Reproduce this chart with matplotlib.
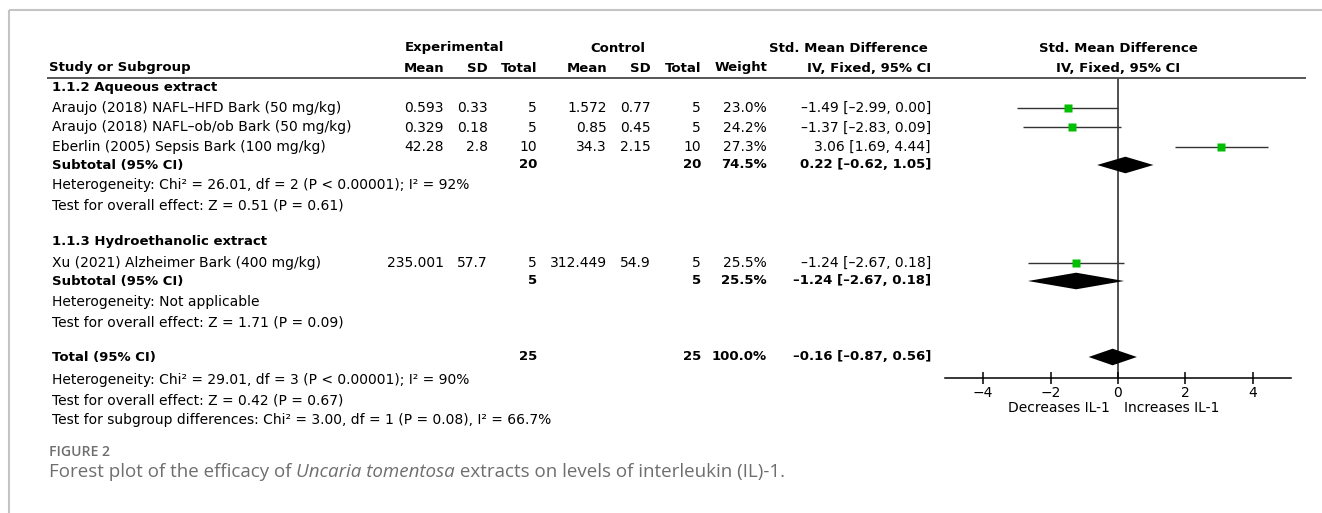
import matplotlib
matplotlib.use("Agg")
import matplotlib.pyplot as plt

W, H = 1322, 513
plt.rcParams['font.family'] = ['DejaVu Sans']

# --- data ---
group_titles = ["1.1.2 Aqueous extract", "1.1.3 Hydroethanolic extract"]
study_names = ["Araujo (2018) NAFL–HFD Bark (50 mg/kg)",
               "Araujo (2018) NAFL–ob/ob Bark (50 mg/kg)",
               "Eberlin (2005) Sepsis Bark (100 mg/kg)",
               "Xu (2021) Alzheimer Bark (400 mg/kg)"]
exp_mean = [0.593, 0.329, 42.28, 235.001]
exp_sd = [0.33, 0.18, 2.8, 57.7]
exp_n = [5, 5, 10, 5]
ctl_mean = [1.572, 0.85, 34.3, 312.449]
ctl_sd = [0.77, 0.45, 2.15, 54.9]
ctl_n = [5, 5, 10, 5]
weight = [23.0, 24.2, 27.3, 25.5]
smd = [-1.49, -1.37, 3.06, -1.24]
ci_lo = [-2.99, -2.83, 1.69, -2.67]
ci_hi = [0.00, 0.09, 4.44, 0.18]

sub_exp_n = [20, 5]
sub_ctl_n = [20, 5]
sub_weight = [74.5, 25.5]
sub_smd = [0.22, -1.24]
sub_lo = [-0.62, -2.67]
sub_hi = [1.05, 0.18]
sub_het = ["Heterogeneity: Chi² = 26.01, df = 2 (P < 0.00001); I² = 92%",
           "Heterogeneity: Not applicable"]
sub_test = ["Test for overall effect: Z = 0.51 (P = 0.61)",
            "Test for overall effect: Z = 1.71 (P = 0.09)"]

tot_exp_n, tot_ctl_n, tot_weight = 25, 25, 100.0
tot_smd, tot_lo, tot_hi = -0.16, -0.87, 0.56
tot_notes = ["Heterogeneity: Chi² = 29.01, df = 3 (P < 0.00001); I² = 90%",
             "Test for overall effect: Z = 0.42 (P = 0.67)",
             "Test for subgroup differences: Chi² = 3.00, df = 1 (P = 0.08), I² = 66.7%"]

x_ticks = [-4, -2, 0, 2, 4]
favours = ["Decreases IL-1", "Increases IL-1"]

# --- layout (pixel rows / columns) ---
group_y = [88, 242]
study_y = [108, 127.5, 147, 263]
sub_y = [165, 281]
het_y = [185.5, 302]
test_y = [205.5, 322]
tot_y = 357
tot_note_y = [380, 400, 420]
col_x = dict(em=444, esd=488, en=537, cm=607, csd=651, cn=701, w=767, ci=931)

FS = 10.0      # regular text
FSB = 9.5      # bold text
GREEN = "#00bf00"


def fmt(v, nd=2):
    return f"{v:.{nd}f}".replace("-", "–")


def ci_txt(e, lo, hi):
    return f"{fmt(e)} [{fmt(lo)}, {fmt(hi)}]"


fig = plt.figure(figsize=(W / 100, H / 100), dpi=100)
bg = fig.add_axes([0, 0, 1, 1])
bg.set_xlim(0, W)
bg.set_ylim(H, 0)
bg.axis("off")


def put(x, y, s, ha="left", bold=False, **kw):
    bg.text(x, y, s, ha=ha, va="center", fontsize=FSB if bold else FS,
            fontweight="bold" if bold else "normal", **kw)


# frame
bg.plot([9, W], [10, 10], color="#c4c4c4", lw=1.5, solid_capstyle="butt")
bg.plot([9, 9], [10, H], color="#c4c4c4", lw=1.5, solid_capstyle="butt")

# header
put(454, 48, "Experimental", ha="center", bold=True)
put(618, 48, "Control", ha="center", bold=True)
put(848, 48, "Std. Mean Difference", ha="center", bold=True)
put(1118, 48, "Std. Mean Difference", ha="center", bold=True)
put(49, 68, "Study or Subgroup", bold=True)
for key, lab in [("em", "Mean"), ("esd", "SD"), ("en", "Total"), ("cm", "Mean"),
                 ("csd", "SD"), ("cn", "Total"), ("w", "Weight"), ("ci", "IV, Fixed, 95% CI")]:
    put(col_x[key], 68, lab, ha="right", bold=True)
put(1118, 68, "IV, Fixed, 95% CI", ha="center", bold=True)
bg.plot([48, 1305], [78, 78], color="#555555", lw=1.4)

# study rows
for i, name in enumerate(study_names):
    y = study_y[i]
    put(52, y, name)
    put(col_x["em"], y, str(exp_mean[i]), ha="right")
    put(col_x["esd"], y, str(exp_sd[i]), ha="right")
    put(col_x["en"], y, str(exp_n[i]), ha="right")
    put(col_x["cm"], y, str(ctl_mean[i]), ha="right")
    put(col_x["csd"], y, str(ctl_sd[i]), ha="right")
    put(col_x["cn"], y, str(ctl_n[i]), ha="right")
    put(col_x["w"], y, f"{weight[i]:.1f}%", ha="right")
    put(col_x["ci"], y, ci_txt(smd[i], ci_lo[i], ci_hi[i]), ha="right")

# subgroups
for g, title in enumerate(group_titles):
    put(52, group_y[g], title, bold=True)
    put(52, sub_y[g], "Subtotal (95% CI)", bold=True)
    put(col_x["en"], sub_y[g], str(sub_exp_n[g]), ha="right", bold=True)
    put(col_x["cn"], sub_y[g], str(sub_ctl_n[g]), ha="right", bold=True)
    put(col_x["w"], sub_y[g], f"{sub_weight[g]:.1f}%", ha="right", bold=True)
    put(col_x["ci"], sub_y[g], ci_txt(sub_smd[g], sub_lo[g], sub_hi[g]), ha="right", bold=True)
    put(52, het_y[g], sub_het[g])
    put(52, test_y[g], sub_test[g])

# overall
put(52, tot_y, "Total (95% CI)", bold=True)
put(col_x["en"], tot_y, str(tot_exp_n), ha="right", bold=True)
put(col_x["cn"], tot_y, str(tot_ctl_n), ha="right", bold=True)
put(col_x["w"], tot_y, f"{tot_weight:.1f}%", ha="right", bold=True)
put(col_x["ci"], tot_y, ci_txt(tot_smd, tot_lo, tot_hi), ha="right", bold=True)
for s, y in zip(tot_notes, tot_note_y):
    put(52, y, s)

# --- forest panel: x in SMD units, y in the same pixel rows ---
fx0, fx1, fy0, fy1 = 945, 1291, 78, 378
fa = fig.add_axes([fx0 / W, (H - fy1) / H, (fx1 - fx0) / W, (fy1 - fy0) / H])
fa.set_xlim(-5.13, 5.13)
fa.set_ylim(fy1, fy0)
fa.patch.set_visible(False)
for sp in ["top", "left", "right"]:
    fa.spines[sp].set_visible(False)
fa.spines["bottom"].set_linewidth(1.1)
fa.set_yticks([])
fa.set_xticks(x_ticks)
fa.tick_params(axis="x", direction="inout", length=9, width=1.1, pad=1, labelsize=FS)
fa.axvline(0, color="#505050", lw=1.4, zorder=1)

fa.hlines(study_y, ci_lo, ci_hi, color="#333333", lw=1.0, zorder=2)
for i in range(len(smd)):
    side_px = 8.4 * (weight[i] / max(weight)) ** 0.5
    fa.plot(smd[i], study_y[i], marker="s", ms=side_px * 0.72, color=GREEN,
            mec="none", zorder=3)


def diamond(est, lo, hi, y, h=8.3):
    fa.fill([lo, est, hi, est], [y, y - h, y, y + h], color="black", lw=0, zorder=3)


for g in range(len(sub_smd)):
    diamond(sub_smd[g], sub_lo[g], sub_hi[g], sub_y[g])
diamond(tot_smd, tot_lo, tot_hi, tot_y)

bg.text(1110, 408, favours[0], ha="right", va="center", fontsize=FS)
bg.text(1124, 408, favours[1], ha="left", va="center", fontsize=FS)

# --- caption ---
cap_color = "#6e6e6e"
bg.text(49, 452, "FIGURE 2", ha="left", va="center", fontsize=10.1, color=cap_color,
        family="Open Sans", fontweight="semibold", fontstretch="condensed")
pieces = [("Forest plot of the efficacy of ", "normal"),
          ("Uncaria tomentosa", "italic"),
          (" extracts on levels of interleukin (IL)-1.", "normal")]
r = fig.canvas.get_renderer()
x = 49
for s, st in pieces:
    t = bg.text(x, 472, s, ha="left", va="center", fontsize=13.5, color=cap_color,
                family="Open Sans", style=st)
    bb = t.get_window_extent(renderer=r)
    x += bb.width

fig.savefig("out.png", dpi=100)
